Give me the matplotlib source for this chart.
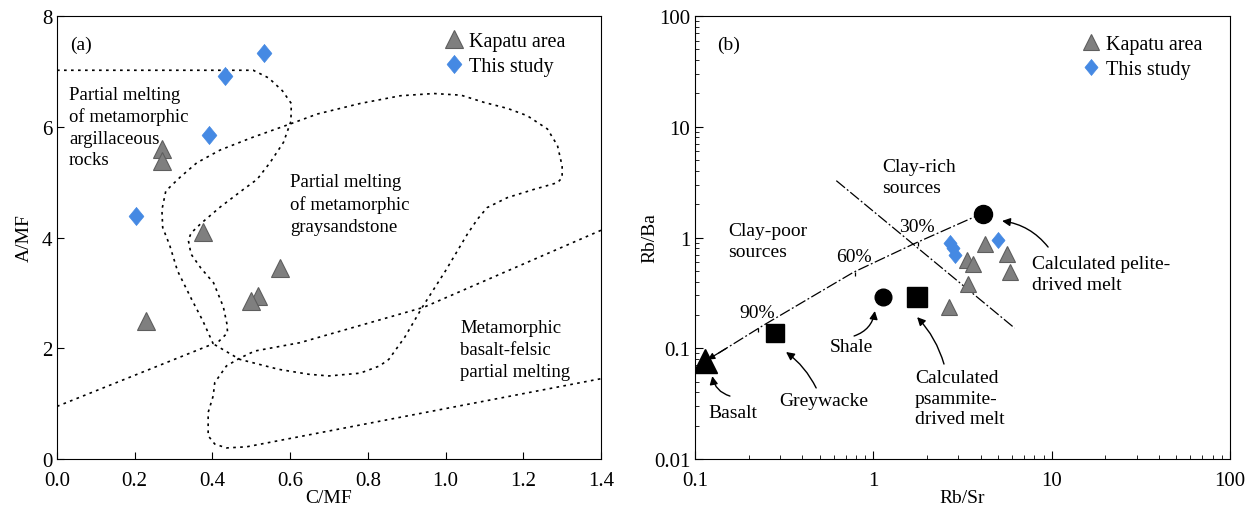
import numpy as np
import matplotlib.pyplot as plt
from matplotlib.ticker import FixedLocator, NullFormatter, LogLocator

plt.rcParams['font.family'] = ['Liberation Serif', 'DejaVu Serif']
plt.rcParams['mathtext.fontset'] = 'stix'

# ---- panel (a) data: A/MF vs C/MF ----
kap_cmf = [0.27, 0.27, 0.375, 0.574, 0.517, 0.50, 0.228]
kap_amf = [5.59, 5.38, 4.10, 3.45, 2.95, 2.86, 2.50]
this_cmf = [0.533, 0.433, 0.39, 0.203]
this_amf = [7.33, 6.91, 5.86, 4.38]

# field boundaries
argil_x = [0.0, 0.505, 0.545, 0.58, 0.603, 0.602, 0.583, 0.549, 0.515, 0.48, 0.42, 0.37,
           0.345, 0.338, 0.345, 0.37, 0.403, 0.428, 0.437, 0.439, 0.41]
argil_y = [7.02, 7.02, 6.88, 6.65, 6.42, 6.1, 5.72, 5.36, 5.05, 4.87, 4.55, 4.25,
           4.08, 3.95, 3.7, 3.45, 3.18, 2.75, 2.45, 2.28, 2.08]
grey_x = [0.402, 0.375, 0.346, 0.31, 0.29, 0.272, 0.27, 0.28, 0.317, 0.36, 0.42, 0.50,
          0.60, 0.67, 0.78, 0.884, 0.97, 1.04, 1.099, 1.16, 1.21, 1.262, 1.288, 1.30,
          1.30, 1.288, 1.228, 1.159, 1.107, 1.082, 1.056, 1.0, 0.94, 0.895, 0.854,
          0.83, 0.78, 0.70, 0.648, 0.57, 0.52, 0.47, 0.402]
grey_y = [2.08, 2.5, 2.89, 3.4, 3.86, 4.18, 4.5, 4.84, 5.09, 5.35, 5.58, 5.8,
          6.05, 6.23, 6.42, 6.56, 6.6, 6.57, 6.44, 6.33, 6.2, 5.96, 5.66, 5.29,
          5.08, 4.99, 4.87, 4.72, 4.54, 4.33, 4.06, 3.4, 2.74, 2.2, 1.80,
          1.68, 1.55, 1.50, 1.53, 1.62, 1.71, 1.80, 2.08]
basalt_x = [1.4, 0.944, 0.625, 0.509, 0.47, 0.436, 0.406, 0.402, 0.389, 0.389,
            0.406, 0.436, 0.488, 1.4]
basalt_y = [4.13, 2.74, 2.10, 1.95, 1.82, 1.68, 1.38, 1.14, 0.84, 0.42,
            0.27, 0.20, 0.22, 1.45]
left_x = [0.0, 0.402]
left_y = [0.95, 2.08]

# ---- panel (b) data: Rb/Ba vs Rb/Sr ----
kap_rbsr = [4.23, 5.6, 5.85, 3.34, 3.64, 3.41, 2.67]
kap_rbba = [0.87, 0.71, 0.49, 0.62, 0.58, 0.38, 0.235]
this_rbsr = [2.69, 2.78, 2.86, 5.02]
this_rbba = [0.90, 0.80, 0.70, 0.95]

basalt_pt = (0.114, 0.076)
greywacke_pt = (0.28, 0.137)
shale_pt = (1.13, 0.29)
psammite_pt = (1.75, 0.29)
pelite_pt = (4.14, 1.64)

mix_x = [0.135, 0.24, 0.773, 1.67, 3.64, 4.0]
mix_y = [0.09, 0.16, 0.485, 0.87, 1.52, 1.60]
pct_x = [0.227, 0.79, 1.79]
pct_y = [0.152, 0.49, 0.92]
pct_lab = ['90%', '60%', '30%']
div_x = [0.62, 6.2]
div_y = [3.26, 0.152]

tri_face = '#7f7f7f'
tri_edge = '#5e5e5e'
dia_col = '#4589e3'
diamond = [(0, 1), (0.82, 0), (0, -1), (-0.82, 0), (0, 1)]
fs = 14

fig = plt.figure(figsize=(12.58, 5.10), dpi=100)
axa = fig.add_axes([57 / 1258, 50 / 510, 544 / 1258, 443 / 510])
axb = fig.add_axes([695 / 1258, 50 / 510, 535 / 1258, 443 / 510])

# ---------------- (a) ----------------
dot = (0, (1.6, 2.6))
for xs, ys in [(argil_x, argil_y), (grey_x, grey_y), (basalt_x, basalt_y), (left_x, left_y)]:
    axa.plot(xs, ys, color='k', lw=1.2, ls=dot)

axa.plot(kap_cmf, kap_amf, ls='none', marker='^', ms=13, mfc=tri_face, mec=tri_edge,
         mew=0.8, label='Kapatu area')
axa.plot(this_cmf, this_amf, ls='none', marker=diamond, ms=13, mfc=dia_col, mec=dia_col,
         mew=0.5, label='This study')

axa.set_xlim(0, 1.4)
axa.set_ylim(0, 8)
axa.set_xticks(np.arange(0, 1.41, 0.2))
axa.set_xticklabels(['%.1f' % v for v in np.arange(0, 1.41, 0.2)])
axa.set_yticks([0, 2, 4, 6, 8])
axa.tick_params(direction='in', labelsize=fs + 1, length=5)
axa.tick_params(axis='x', pad=9)
axa.set_xlabel('C/MF', fontsize=fs, labelpad=-1)
axa.set_ylabel('A/MF', fontsize=fs, labelpad=6)

lab_kw = dict(transform=axa.transAxes, fontsize=13.5, va='top', linespacing=1.35)
axa.text(0.024, 0.937, '(a)', transform=axa.transAxes, fontsize=fs, va='center')
axa.text(0.022, 0.843, 'Partial melting\nof metamorphic\nargillaceous\nrocks', **lab_kw)
axa.text(0.428, 0.645, 'Partial melting\nof metamorphic\ngraysandstone', **lab_kw)
axa.text(0.741, 0.315, 'Metamorphic\nbasalt-felsic\npartial melting', **lab_kw)
axa.legend(loc='upper right', frameon=False, fontsize=fs + 0.5, handlelength=0.9,
           handletextpad=0.3, labelspacing=0.3, borderaxespad=0.3, borderpad=0.5,
           bbox_to_anchor=(0.965, 1.0))

# ---------------- (b) ----------------
axb.set_xscale('log')
axb.set_yscale('log')
axb.plot(div_x, div_y, color='k', lw=0.9, ls=(0, (9, 2, 1.5, 2)))
axb.plot(mix_x, mix_y, color='k', lw=0.9, ls=(0, (9, 2, 1.5, 2)))
axb.annotate('', xy=(0.118, 0.079), xytext=(0.15, 0.1),
             arrowprops=dict(arrowstyle='-|>', color='k', lw=0.9, shrinkA=0, shrinkB=0,
                             mutation_scale=10))
axb.plot(pct_x, pct_y, ls='none', marker=[(0, 0), (0, -1)], ms=6, mec='k', mew=0.9)
for px, py, lab in zip(pct_x, pct_y, pct_lab):
    axb.annotate(lab, (px, py), xytext=(-1, 5), textcoords='offset points',
                 fontsize=fs, ha='center', va='bottom')

axb.plot(*basalt_pt, ls='none', marker='^', ms=17, color='k')
axb.plot(*greywacke_pt, ls='none', marker='s', ms=13.5, color='k')
axb.plot(*shale_pt, ls='none', marker='o', ms=12, color='k')
axb.plot(*psammite_pt, ls='none', marker='s', ms=14, color='k')
axb.plot(*pelite_pt, ls='none', marker='o', ms=13, color='k')

axb.plot(kap_rbsr, kap_rbba, ls='none', marker='^', ms=11.5, mfc=tri_face, mec=tri_edge,
         mew=0.8, label='Kapatu area')
axb.plot(this_rbsr, this_rbba, ls='none', marker=diamond, ms=11.5, mfc=dia_col, mec=dia_col,
         mew=0.5, label='This study')

arr = dict(arrowstyle='-|>', color='k', lw=1.0, shrinkA=0, shrinkB=0, mutation_scale=12)
arrows = [((0.125, 0.056), (0.157, 0.037), -0.3),
          ((0.324, 0.0925), (0.478, 0.0438), 0.12),
          ((1.02, 0.217), (0.78, 0.129), 0.3),
          ((1.76, 0.191), (2.49, 0.072), 0.12),
          ((5.27, 1.41), (9.55, 0.82), 0.2)]
for head, tail, rad in arrows:
    axb.annotate('', xy=head, xytext=tail,
                 arrowprops=dict(arr, connectionstyle='arc3,rad=%s' % rad))

txt_kw = dict(transform=axb.transAxes, fontsize=fs)
axb.text(0.071, 0.106, 'Basalt', ha='center', va='center', **txt_kw)
axb.text(0.241, 0.131, 'Greywacke', ha='center', va='center', **txt_kw)
axb.text(0.292, 0.255, 'Shale', ha='center', va='center', **txt_kw)
axb.text(0.411, 0.203, 'Calculated\npsammite-\ndrived melt', va='top', linespacing=1.28, **txt_kw)
axb.text(0.63, 0.46, 'Calculated pelite-\ndrived melt', va='top', linespacing=1.3, **txt_kw)
axb.text(0.35, 0.68, 'Clay-rich\nsources', va='top', linespacing=1.3, **txt_kw)
axb.text(0.062, 0.535, 'Clay-poor\nsources', va='top', linespacing=1.3, **txt_kw)
axb.text(0.041, 0.937, '(b)', va='center', **txt_kw)

axb.set_xlim(0.1, 100)
axb.set_ylim(0.01, 100)
axb.xaxis.set_major_locator(FixedLocator([0.1, 1, 10, 100]))
axb.set_xticklabels(['0.1', '1', '10', '100'])
axb.yaxis.set_major_locator(FixedLocator([0.01, 0.1, 1, 10, 100]))
axb.set_yticklabels(['0.01', '0.1', '1', '10', '100'])
axb.xaxis.set_minor_locator(LogLocator(base=10, subs=np.arange(2, 10)))
axb.yaxis.set_minor_locator(LogLocator(base=10, subs=np.arange(2, 10)))
axb.xaxis.set_minor_formatter(NullFormatter())
axb.yaxis.set_minor_formatter(NullFormatter())
axb.tick_params(which='major', direction='in', labelsize=fs + 1, length=6)
axb.tick_params(which='minor', direction='in', length=3)
axb.tick_params(axis='x', which='major', pad=9)
axb.set_xlabel('Rb/Sr', fontsize=fs, labelpad=-1)
axb.set_ylabel('Rb/Ba', fontsize=fs, labelpad=-3)
axb.legend(loc='upper right', frameon=False, fontsize=fs + 0.5, handlelength=0.9,
           handletextpad=0.3, labelspacing=0.3, borderaxespad=0.3, borderpad=0.5,
           bbox_to_anchor=(0.978, 0.993))

fig.savefig('out.png', dpi=100)
